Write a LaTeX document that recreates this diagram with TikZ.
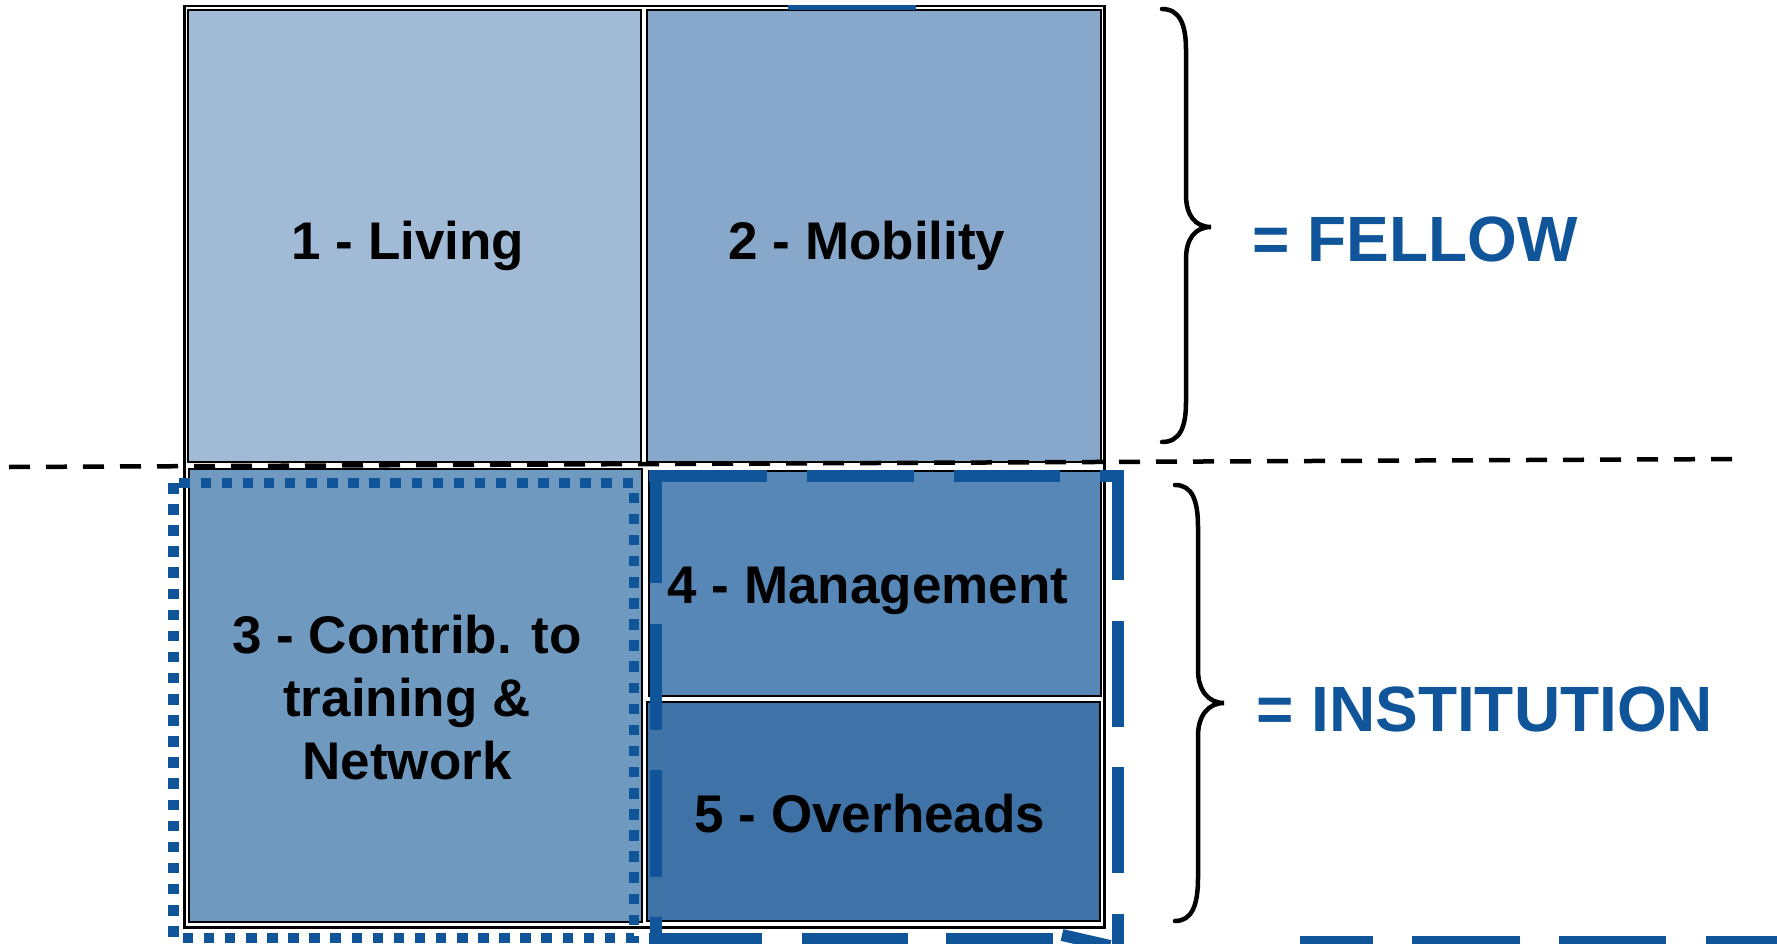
\documentclass[tikz,border=0pt]{standalone}
\usepackage{fontspec}
\setmainfont{Liberation Sans}
\definecolor{fillA}{HTML}{A1BAD5}
\definecolor{fillB}{HTML}{87A8CB}
\definecolor{fillC}{HTML}{6F99BF}
\definecolor{fillD}{HTML}{5787B6}
\definecolor{fillE}{HTML}{3F73A7}
\definecolor{accent}{HTML}{10559A}
\begin{document}
\begin{tikzpicture}[x=1pt,y=-1pt,
  boxstyle/.style={draw=black, line width=2pt, inner sep=0pt, anchor=north west},
  lbl/.style={font=\fontsize{53}{63}\selectfont\bfseries, anchor=base, inner sep=0pt},
  bluelbl/.style={font=\fontsize{64}{70}\selectfont\bfseries, text=accent, anchor=base west, inner sep=0pt},
  bluedash/.style={draw=accent, line width=12pt},
  bluedot/.style={draw=accent, line width=10.5pt, dash pattern=on 10.5pt off 10.6pt},
  divider/.style={draw=black, line width=4.5pt, dash pattern=on 21pt off 16pt},
  bracestyle/.style={draw=black, line width=4.5pt, line cap=round}]

\useasboundingbox (0,0) rectangle (1777,944);
\fill[white] (0,0) rectangle (1777,944);

% outer frame
\node[draw=black, line width=2.5pt, fill=white, inner sep=0pt, anchor=north west,
      minimum width=920pt, minimum height=921pt] (frame) at (183,5) {};

% boxes
\node[boxstyle, fill=fillA, minimum width=453pt, minimum height=452pt] (living) at (187,9) {};
\node[boxstyle, fill=fillB, minimum width=454pt, minimum height=452pt] (mobility) at (646,9) {};
\node[boxstyle, fill=fillC, minimum width=453pt, minimum height=453pt] (contrib) at (188,468) {};
\node[boxstyle, fill=fillD, minimum width=452pt, minimum height=225pt] (management) at (648,470) {};
\node[boxstyle, fill=fillE, minimum width=453pt, minimum height=219pt] (overheads) at (646,701) {};

% labels
\node[lbl] (tliving) at (408,259.5) {1 - Living};
\node[lbl] (tmobility) at (867,259.5) {2 - Mobility};
\node[lbl] (tcontribA) at (407,653) {3 - Contrib. to};
\node[lbl] (tcontribB) at (407,716) {training \&};
\node[lbl] (tcontribC) at (407,779) {Network};
\node[lbl] (tmanagement) at (868,603) {4 - Management};
\node[lbl] (toverheads) at (870,832) {5 - Overheads};

% short blue line on top
\draw[accent, line width=5pt] (788,8) -- (916,8);

% divider
\coordinate (divL) at (9,467);
\coordinate (divR) at (1745,459);
\draw[divider] (divL) -- (divR);

% dotted blue rectangle
\draw[bluedot] (173.5,483) rectangle (634,938);

% long dashed blue rectangle
\foreach \a/\b in {649/767, 807/914, 954/1060, 1100/1112}
  \draw[bluedash] (\a,476) -- (\b,476);
\foreach \a/\b in {470/583, 624/730, 770/877, 917/950}
  \draw[bluedash] (655.5,\a) -- (655.5,\b);
\foreach \a/\b in {470/580, 621/727, 767/873, 914/950}
  \draw[bluedash] (1117.5,\a) -- (1117.5,\b);
\foreach \a/\b in {649/762, 802/908, 946/1053}
  \draw[bluedash] (\a,939) -- (\b,939);
\draw[bluedash] (1062,935) -- (1110,946);
\foreach \a/\b in {1300/1373, 1412/1520, 1559/1666, 1706/1780}
  \draw[bluedash] (\a,942) -- (\b,942);

% braces
\draw[bracestyle] (1162,9) .. controls (1180,9) and (1186,25) .. (1186,50) -- (1186,195)
  .. controls (1186,215) and (1195,227) .. (1211,227)
  .. controls (1195,227) and (1186,239) .. (1186,259) -- (1186,402)
  .. controls (1186,427) and (1180,442) .. (1162,442);
\draw[bracestyle] (1175,485) .. controls (1192,485) and (1198,500) .. (1198,527) -- (1198,670)
  .. controls (1198,690) and (1208,703) .. (1224,703)
  .. controls (1208,703) and (1198,716) .. (1198,736) -- (1198,878)
  .. controls (1198,905) and (1192,921) .. (1175,921);

% blue labels
\node[bluelbl] (fellow) at (1252,261) {= FELLOW};
\node[bluelbl] (institution) at (1256,731) {= INSTITUTION};
\end{tikzpicture}
\end{document}
